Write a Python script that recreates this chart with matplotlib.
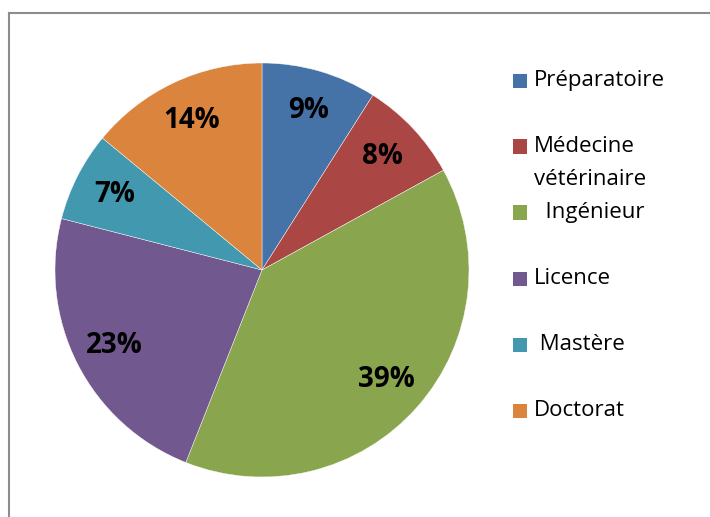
import matplotlib.pyplot as plt
from matplotlib.lines import Line2D
from matplotlib.patches import Rectangle

categories = ["Préparatoire", "Médecine\nvétérinaire", "  Ingénieur", "Licence", " Mastère", "Doctorat"]
values = [9, 8, 39, 23, 7, 14]
colors = ["#4572A7", "#AA4643", "#89A54E", "#71588F", "#4198AF", "#DB843D"]

W, H = 710, 517
fig = plt.figure(figsize=(W / 100, H / 100), dpi=100)

# pie axes: centre (262, 270) px, radius 207 px
cx, cy, r = 262, 270, 207
ax = fig.add_axes([(cx - r) / W, (H - cy - r) / H, 2 * r / W, 2 * r / H])
wedges, texts, autotexts = ax.pie(
    values, colors=colors, startangle=90, counterclock=False, radius=1,
    autopct=lambda p: "%d%%" % round(p), pctdistance=0.8,
    wedgeprops=dict(edgecolor="white", linewidth=0.3),
    textprops=dict(fontsize=20, fontweight="bold", family="Open Sans", color="black"))
ax.set_xlim(-1, 1)
ax.set_ylim(-1, 1)
ax.set_aspect("equal")
ax.axis("off")

# legend drawn by hand, uniform spacing like the original
y0, step = 80.5, 66
for i, (lab, col) in enumerate(zip(categories, colors)):
    y = y0 + i * step
    fig.add_artist(Rectangle((513 / W, 1 - (y + 7) / H), 14 / W, 14 / H,
                             transform=fig.transFigure, facecolor=col, edgecolor="none"))
    fig.text(534 / W, 1 - y / H, lab.split("\n")[0], fontsize=16, family="Open Sans",
             va="center", ha="left")
    if "\n" in lab:
        fig.text(534 / W, 1 - (y + 33) / H, lab.split("\n")[1], fontsize=16,
                 family="Open Sans", va="center", ha="left")

# chart frame (top and left edges visible)
fig.add_artist(Line2D([8.5 / W, 1.0], [1 - 12.5 / H, 1 - 12.5 / H], color="#8c8c8c", lw=1.5,
                      transform=fig.transFigure))
fig.add_artist(Line2D([8.5 / W, 8.5 / W], [0, 1 - 12.5 / H], color="#8c8c8c", lw=1.5,
                      transform=fig.transFigure))

fig.savefig("out.png", dpi=100)
